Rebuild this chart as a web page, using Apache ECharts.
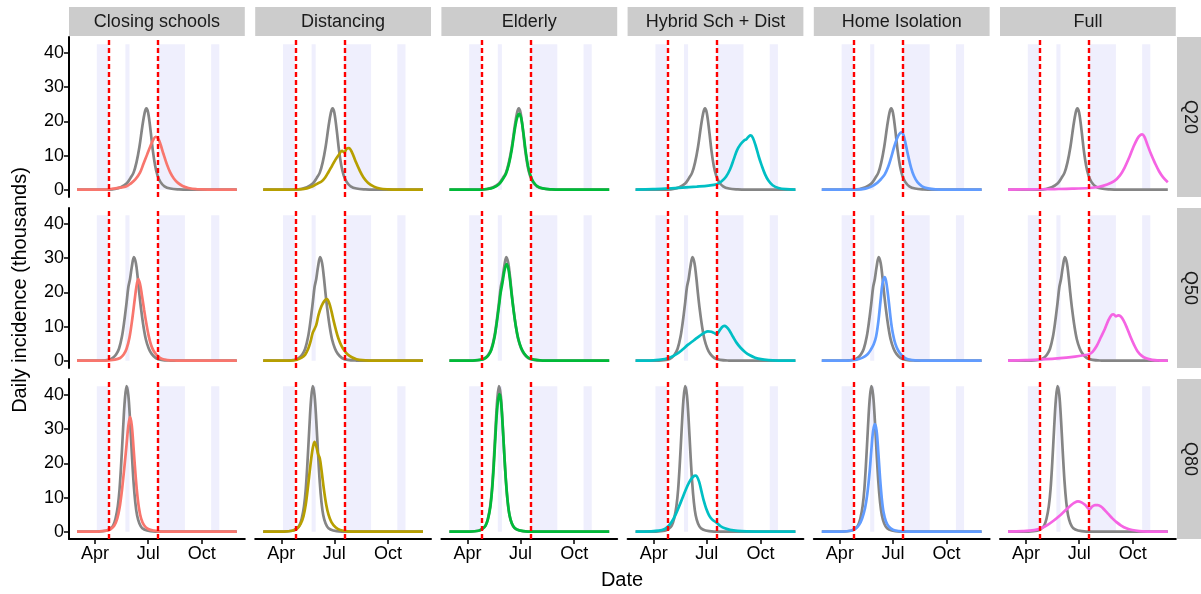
<!DOCTYPE html>
<html>
<head>
<meta charset="utf-8">
<script src="https://cdn.jsdelivr.net/npm/echarts@6/dist/echarts.min.js"></script>
<style>
html,body{margin:0;padding:0;background:#fff;}
#chart{width:1201px;height:594px;}
</style>
</head>
<body>
<div id="chart"></div>
<script>
// ---------------- DATA ----------------
// x = days since 1 March (day 0 = 1 Mar, day 274 = 30 Nov), y = daily incidence (thousands)
const scenarios = ['Closing schools', 'Distancing', 'Elderly', 'Hybrid Sch + Dist', 'Home Isolation', 'Full'];
const quantiles = ['Q20', 'Q50', 'Q80'];
const scenarioColors = ['#F8766D', '#B79F00', '#00BA38', '#00BFC4', '#619CFF', '#F564E3'];
const baselineColor = '#858585';

const xTickDays = [31, 122, 214];
const xTickLabels = ['Apr', 'Jul', 'Oct'];
const yTicks = [0, 10, 20, 30, 40];

const interventionDays = [55, 139];
const holidayStart = [34, 83, 139, 230];
const holidayEnd = [54, 90, 185, 244];
const holidayTop = 42.57;

// Q20
const q20Baseline = [[0,0],[55,0.05],[65,0.2],[75,0.7],[85,1.8],[92,3.5],[97,5.0],[102,8.0],[107,12.5],[112,18.5],[116,22.5],[119,23.8],[122,22.5],[126,17.5],[130,11.5],[134,7.0],[138,4.2],[143,2.3],[150,1.0],[160,0.35],[175,0.08],[190,0],[274,0]];
const q20Closing = [[0,0],[50,0.05],[62,0.3],[75,0.6],[85,1.0],[92,1.8],[100,3.0],[108,5.0],[114,7.6],[120,10.2],[126,12.8],[131,14.7],[135,15.5],[139,15.0],[143,13.4],[148,10.6],[154,7.5],[160,5.0],[166,3.3],[173,2.0],[181,1.1],[191,0.5],[205,0.15],[225,0.03],[274,0]];
const q20Distancing = [[0,0],[60,0.1],[75,0.4],[85,1.0],[93,1.8],[100,2.4],[106,3.5],[112,5.2],[118,7.0],[124,8.8],[130,10.3],[135,11.4],[139,10.9],[143,12.0],[147,12.2],[152,11.0],[158,8.5],[165,5.8],[172,3.6],[180,2.0],[190,0.9],[200,0.35],[215,0.1],[230,0],[274,0]];
const q20Elderly = [[0,0],[55,0.05],[65,0.2],[75,0.6],[85,1.6],[92,3.2],[97,4.7],[102,7.5],[107,11.8],[112,17.5],[116,21.0],[119.5,22.2],[123,21.0],[127,16.5],[131,11.0],[135,6.8],[139,4.2],[144,2.3],[151,1.0],[160,0.4],[175,0.1],[190,0],[274,0]];
const q20Hybrid = [[0,0.05],[30,0.15],[55,0.35],[80,0.6],[105,0.9],[125,1.2],[139,1.6],[147,2.4],[155,3.8],[162,6.0],[168,8.8],[174,11.6],[180,13.3],[186,14.4],[190,14.8],[194,15.6],[197.5,15.9],[201,15.2],[206,12.8],[211,9.8],[216,7.2],[222,4.5],[228,2.6],[235,1.3],[245,0.5],[258,0.15],[274,0.05]];
const q20Home = [[0,0],[60,0.05],[75,0.3],[85,0.9],[95,2.0],[102,3.2],[108,4.5],[114,6.8],[119,9.5],[124,12.5],[129,15.0],[133,16.3],[136.5,16.8],[140,16.0],[144,13.2],[148,10.0],[153,6.5],[158,4.0],[164,2.2],[172,1.0],[182,0.4],[195,0.1],[215,0],[274,0]];
const q20Full = [[0,0.05],[40,0.1],[80,0.2],[110,0.3],[139,0.5],[155,0.8],[170,1.5],[182,2.5],[192,4.2],[200,6.5],[208,9.5],[215,12.5],[222,15.0],[227,16.0],[230,16.2],[234,15.5],[239,13.2],[245,10.5],[252,7.8],[259,5.4],[266,3.6],[274,2.2]];

// Q50
const q50Baseline = [[0,0],[40,0.05],[55,0.3],[62,0.9],[67,1.8],[72,3.5],[77,7.0],[81,11.5],[85,17.0],[88,21.5],[91,24.0],[94,27.5],[97.5,30.3],[101,28.5],[104,24.5],[107,19.5],[110,15.0],[114,10.0],[118,6.3],[123,3.6],[128,2.0],[135,0.8],[145,0.25],[160,0.05],[180,0],[274,0]];
const q50Closing = [[0,0],[50,0.05],[65,0.3],[74,0.8],[80,1.8],[85,3.5],[90,6.8],[95,12.5],[99,18.0],[102,21.8],[105,23.9],[108,22.5],[111,19.5],[115,15.0],[119,10.8],[123,7.2],[127,4.6],[131,3.0],[137,1.6],[145,0.6],[155,0.2],[170,0.05],[185,0],[274,0]];
const q50Distancing = [[0,0],[45,0.05],[58,0.3],[66,0.9],[72,1.8],[77,3.4],[81,5.5],[85,8.2],[88,9.3],[91,10.5],[95,13.5],[100,16.0],[105,17.5],[109,18.0],[113,17.0],[117,14.5],[121,11.5],[125,8.8],[129,6.5],[134,4.4],[139,3.0],[145,1.8],[152,1.0],[160,0.45],[170,0.15],[185,0.03],[200,0],[274,0]];
const q50Elderly = [[0,0],[40,0.05],[55,0.3],[62,0.8],[67,1.6],[72,3.2],[77,6.5],[81,10.8],[85,16.0],[88,20.0],[91,22.8],[94,26.0],[98,28.3],[101,27.0],[104,23.5],[107,19.0],[110,14.8],[114,10.0],[118,6.5],[123,3.8],[128,2.2],[135,0.9],[145,0.3],[160,0.05],[180,0],[274,0]];
const q50Hybrid = [[0,0],[30,0.1],[50,0.5],[60,1.0],[70,1.9],[80,3.2],[90,4.7],[100,6.0],[110,7.3],[118,8.2],[124,8.6],[130,8.5],[136,8.0],[139,7.7],[143,8.6],[148,9.8],[152,10.2],[156,9.9],[161,8.8],[167,7.0],[173,5.3],[180,3.8],[188,2.5],[196,1.6],[205,0.9],[215,0.45],[228,0.2],[245,0.05],[260,0],[274,0]];
const q50Home = [[0,0],[45,0.05],[60,0.3],[70,0.9],[78,1.8],[84,3.2],[89,4.8],[93,7.0],[97,11.5],[101,18.0],[104,22.5],[107.5,24.5],[110,23.5],[113,20.0],[116,15.5],[119,11.0],[122,7.8],[126,5.0],[131,3.0],[137,1.6],[145,0.6],[155,0.2],[170,0.05],[185,0],[274,0]];
const q50Full = [[0,0.05],[30,0.15],[55,0.35],[80,0.6],[100,0.9],[115,1.2],[130,1.6],[139,1.9],[145,2.6],[152,4.3],[159,6.8],[166,9.3],[172,11.8],[177,13.3],[181,13.6],[185,13.0],[189,13.3],[193,13.0],[198,11.8],[204,9.6],[210,7.0],[216,4.7],[222,2.8],[229,1.5],[237,0.7],[247,0.25],[260,0.05],[274,0]];

// Q80
const q80Baseline = [[0,0],[35,0.05],[50,0.3],[57,0.9],[62,1.8],[66,3.8],[70,7.5],[73,12.5],[76,20.5],[79,30.0],[82,38.5],[85,42.6],[88,40.0],[91,32.5],[94,23.0],[97,14.5],[100,8.5],[103,4.8],[107,2.4],[112,1.0],[120,0.35],[135,0.05],[150,0],[274,0]];
const q80Closing = [[0,0],[35,0.05],[50,0.3],[58,0.8],[64,1.8],[69,3.8],[73,7.0],[77,12.0],[81,18.5],[85,25.5],[88,31.0],[91,33.6],[94,31.0],[97,24.5],[100,17.5],[103,11.5],[106,7.2],[110,3.8],[115,1.9],[122,0.8],[132,0.3],[145,0.05],[160,0],[274,0]];
const q80Distancing = [[0,0],[35,0.05],[50,0.3],[58,0.9],[64,2.2],[69,4.5],[73,8.0],[77,13.5],[81,19.5],[85,24.5],[88,26.3],[91,25.0],[94,22.8],[97,21.5],[100,18.0],[104,12.5],[108,8.0],[112,5.0],[117,2.8],[124,1.3],[132,0.5],[145,0.1],[160,0],[274,0]];
const q80Elderly = [[0,0],[35,0.05],[50,0.3],[57,0.9],[62,1.8],[66,3.6],[70,7.0],[73,11.8],[76,19.0],[79,28.0],[82,36.0],[85.5,40.3],[88,38.8],[91,32.0],[94,23.0],[97,14.8],[100,8.8],[103,5.0],[107,2.5],[112,1.1],[120,0.4],[135,0.05],[150,0],[274,0]];
const q80Hybrid = [[0,0.02],[25,0.1],[40,0.3],[50,0.8],[56,1.6],[62,2.9],[68,4.8],[74,7.2],[80,9.7],[86,12.3],[92,14.5],[97,15.8],[102,16.4],[105,16.2],[109,14.6],[113,11.8],[117,9.0],[121,6.8],[126,4.8],[131,3.6],[136,3.0],[140,2.5],[146,1.6],[153,1.0],[162,0.55],[175,0.25],[190,0.1],[210,0.03],[230,0],[274,0]];
const q80Home = [[0,0],[35,0.05],[50,0.3],[58,0.9],[64,2.0],[69,3.8],[74,6.8],[78,11.0],[82,17.5],[85,24.0],[88,29.5],[91,31.5],[94,29.5],[97,23.0],[100,15.5],[103,9.5],[106,5.6],[110,3.0],[115,1.5],[122,0.6],[132,0.2],[145,0.05],[160,0],[274,0]];
const q80Full = [[0,0.05],[25,0.15],[45,0.45],[58,1.1],[68,2.0],[78,3.2],[88,4.6],[98,6.2],[107,7.6],[114,8.5],[120,8.9],[126,8.6],[132,7.9],[137,6.9],[140,6.6],[144,7.3],[149,7.8],[154,7.8],[160,7.3],[166,6.3],[172,5.2],[179,3.9],[186,2.8],[194,1.8],[203,1.0],[213,0.5],[225,0.2],[240,0.05],[255,0],[274,0]];

const baselines = [q20Baseline, q50Baseline, q80Baseline];
const scenarioSeries = [
  [q20Closing, q20Distancing, q20Elderly, q20Hybrid, q20Home, q20Full],
  [q50Closing, q50Distancing, q50Elderly, q50Hybrid, q50Home, q50Full],
  [q80Closing, q80Distancing, q80Elderly, q80Hybrid, q80Home, q80Full]
];

// ---------------- LAYOUT ----------------
const FONT = "'Liberation Sans', Arial, Helvetica, sans-serif";
const left0 = 69, colStep = 186.2, panelW = 175.8;
const top0 = 37, rowStep = 171, panelH = 160;
const xMin = -13.7, xMax = 287.7;
const yMin = -2.13, yMax = 44.7;

const grids = [], xAxes = [], yAxes = [], series = [], graphics = [];
let gi = 0;
for (let r = 0; r < quantiles.length; r++) {
  for (let c = 0; c < scenarios.length; c++) {
    const L = left0 + c * colStep, T = top0 + r * rowStep;
    grids.push({ left: L, top: T, width: panelW, height: panelH, containLabel: false });
    const bottomRow = r === quantiles.length - 1;
    xAxes.push({
      gridIndex: gi, type: 'value', min: xMin, max: xMax,
      splitLine: { show: false },
      axisLine: { show: bottomRow, onZero: false, lineStyle: { color: '#000', width: 2 } },
      axisTick: { show: bottomRow, customValues: xTickDays, length: 5, lineStyle: { color: '#000', width: 1.5 } },
      axisLabel: {
        show: bottomRow, customValues: xTickDays, margin: 6,
        formatter: (v) => xTickLabels[xTickDays.indexOf(Math.round(v))] || '',
        fontSize: 18, color: '#000', fontFamily: FONT
      }
    });
    const firstCol = c === 0;
    yAxes.push({
      gridIndex: gi, type: 'value', min: yMin, max: yMax,
      splitLine: { show: false },
      axisLine: { show: firstCol, onZero: false, lineStyle: { color: '#000', width: 2 } },
      axisTick: { show: firstCol, customValues: yTicks, length: 5, lineStyle: { color: '#000', width: 1.5 } },
      axisLabel: { show: firstCol, customValues: yTicks, margin: 5, fontSize: 18, color: '#000', fontFamily: FONT }
    });
    // holiday shading
    series.push({
      type: 'line', xAxisIndex: gi, yAxisIndex: gi, data: [], silent: true, z: 1,
      markArea: {
        silent: true,
        itemStyle: { color: '#EFEFFD' },
        data: holidayStart.map((s, i) => [{ xAxis: s, yAxis: 0 }, { xAxis: holidayEnd[i], yAxis: holidayTop }])
      }
    });
    // baseline
    series.push({
      type: 'line', xAxisIndex: gi, yAxisIndex: gi, data: baselines[r], smooth: 0.35,
      showSymbol: false, z: 3, silent: true,
      lineStyle: { color: baselineColor, width: 2.7 }
    });
    // intervention
    series.push({
      type: 'line', xAxisIndex: gi, yAxisIndex: gi, data: scenarioSeries[r][c], smooth: 0.35,
      showSymbol: false, z: 4, silent: true,
      lineStyle: { color: scenarioColors[c], width: 2.7 }
    });
    // intervention dates
    series.push({
      type: 'line', xAxisIndex: gi, yAxisIndex: gi, data: [], silent: true, z: 6,
      markLine: {
        silent: true, symbol: 'none', label: { show: false },
        lineStyle: { color: '#FF0000', type: [5, 3], width: 2.4, opacity: 1 },
        data: interventionDays.map(d => ({ xAxis: d }))
      }
    });
    gi++;
  }
}

// top strips
for (let c = 0; c < scenarios.length; c++) {
  const L = left0 + c * colStep;
  graphics.push({ type: 'rect', shape: { x: L, y: 7, width: panelW, height: 29 }, style: { fill: '#CCCCCC' }, silent: true });
  graphics.push({ type: 'text', x: L + panelW / 2, y: 22, silent: true,
    style: { text: scenarios[c], align: 'center', verticalAlign: 'middle', fontSize: 18, fontFamily: FONT, fill: '#1a1a1a' } });
}
// right strips
for (let r = 0; r < quantiles.length; r++) {
  const T = top0 + r * rowStep;
  graphics.push({ type: 'rect', shape: { x: 1177, y: T, width: 26, height: panelH }, style: { fill: '#CCCCCC' }, silent: true });
  graphics.push({ type: 'text', x: 1190, y: T + panelH / 2, rotation: -Math.PI / 2, silent: true,
    style: { text: quantiles[r], align: 'center', verticalAlign: 'middle', fontSize: 18, fontFamily: FONT, fill: '#1a1a1a' } });
}
// axis titles
graphics.push({ type: 'text', x: 20, y: 290, rotation: Math.PI / 2, silent: true,
  style: { text: 'Daily incidence (thousands)', align: 'center', verticalAlign: 'middle', fontSize: 20, fontFamily: FONT, fill: '#000' } });
graphics.push({ type: 'text', x: 622, y: 580, silent: true,
  style: { text: 'Date', align: 'center', verticalAlign: 'middle', fontSize: 20, fontFamily: FONT, fill: '#000' } });

const chart = echarts.init(document.getElementById('chart'), null, { renderer: 'canvas' });
chart.setOption({
  animation: false,
  backgroundColor: '#fff',
  grid: grids, xAxis: xAxes, yAxis: yAxes, series: series, graphic: graphics
});
</script>
</body>
</html>
